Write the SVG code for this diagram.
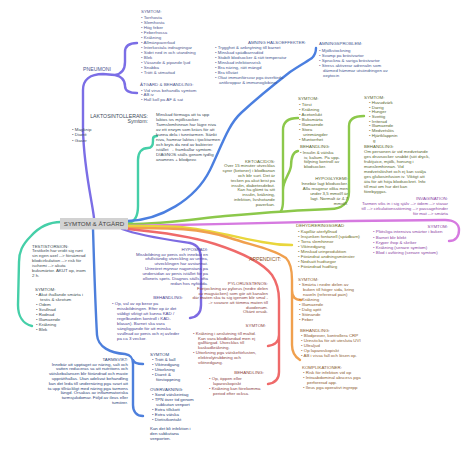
<svg xmlns="http://www.w3.org/2000/svg" width="474" height="452" viewBox="0 0 474 452">
<style>
.t{font-family:"Liberation Sans",Arial,sans-serif;font-size:4.4px}
.h{font-size:5.2px}
.e{text-anchor:end}
.pn{fill:#4f5790}.am{fill:#3f5590}.lk{fill:#3a4a5a}.gr{fill:#56652c}.iv{fill:#8b3fa3}
.dh{fill:#6e6a22}.ap{fill:#8c5a2e}.py{fill:#8c3f3f}.hy{fill:#4b3f93}.ta{fill:#2c3f78}.te{fill:#3a4a52}
.ln{fill:none;stroke-linecap:round;stroke-width:2.4}
</style>
<rect width="474" height="452" fill="#ffffff"/>
<g id="connectors">
<path class="ln" stroke="#7b6ee6" d="M94,218 C92,200 84,170 83,130 L83,90 C83,80 90,74 103,74 L115,75 M115,75 C121,74 125,70 125,62 L125,52 C125,46 129,43 137,43 M115,75 C121,76 125,80 125,86 C125,91 129,93 137,93"/>
<path class="ln" stroke="#45cfa8" d="M128,223 C135,222 138,216 138,206 L138,160 C138,152 142,148 148,148 C152,148 153,145 153,141 L153,139 C153,137 155,136 157,136"/>
<path class="ln" stroke="#45cfa8" d="M61,222 C50,222 40,226 31,236 C22,245 19,252 19,262 L18,305 C18,316 23,324 32,326"/>
<path class="ln" stroke="#4b7fe0" d="M128,221 C160,220 195,200 210,170 C222,145 228,125 241,113 C255,100 272,86 290,72 C300,65 308,61 312,58 C315,55 316,52 316,48"/>
<path class="ln" stroke="#8cc84b" d="M128,224 C170,224 200,218 225,216 C260,213 300,210 330,209 C342,209 349,203 349,192 L349,126 C349,119 354,116 364,116"/>
<path class="ln" stroke="#8cc84b" d="M281,211 C283,208 283,205 283,200 L283,130 C283,122 288,118 298,118 M283,190 C283,180 290,174 291,166 C291,157 293,152 298,151"/>
<path class="ln" stroke="#d67ae0" d="M128,226 C200,225 280,222 350,221 L445,220 C454,220 459,224 459,230 C459,237 455,241 449,241"/>
<path class="ln" stroke="#e9d63c" d="M128,226 C150,226 165,226 180,227 C205,229 240,238 262,242 C272,244 282,245 292,245"/>
<path class="ln" stroke="#f0a04e" d="M128,228 C170,228 200,228 230,238 C255,246 275,250 286,258 C291,263 292,270 292,280 L292,290 C292,297 295,300 301,300 M292,290 L292,345 C292,353 295,357 300,360"/>
<path class="ln" stroke="#ef6a6a" d="M128,229 C160,232 190,236 215,244 C240,252 262,262 272,275 C278,284 279,292 279,300 L279,335 C279,342 275,345 268,346 M279,335 L279,372 C279,380 275,383 268,384"/>
<path class="ln" stroke="#7d6be2" d="M122,229 C140,236 170,240 190,243 C198,245 201,250 201,260 L201,305 C201,313 197,317 190,318"/>
<path class="ln" stroke="#4d7fdc" d="M93,229 C94,260 95,300 97,335 C98,347 110,353 125,354 C131,355 133,358 133,364 L133,405 C133,412 137,416 143,416 M133,360 C134,363 138,364 143,364"/>
</g>
<g id="center">
<rect x="60" y="218" width="68" height="11.5" fill="#d2d2d2"/>
<text x="94" y="226" text-anchor="middle" font-family="Liberation Sans,Arial,sans-serif" font-size="6.2" fill="#444">SYMTOM &amp; ÅTGÄRD</text>
</g>
<g id="pneumoni">
<text class="t h pn" x="83" y="71">PNEUMONI</text>
<text class="t pn"><tspan x="141" y="12.5">SYMTOM:</tspan><tspan x="141" y="19.2">•  Torrhosta</tspan><tspan x="141" y="24.1">•  Slemhosta</tspan><tspan x="141" y="29.1">•  Hög feber</tspan><tspan x="141" y="34">•  Feberfrossa</tspan><tspan x="141" y="39">•  Kräkning</tspan><tspan x="141" y="43.9">•  Allmänpåverkad</tspan><tspan x="141" y="48.9">•  Interkostala indragningar</tspan><tspan x="141" y="53.8">•  Sidet ned in och utandning</tspan><tspan x="141" y="58.8">•  Blek</tspan><tspan x="141" y="63.7">•  Väsande &amp; pipande ljud</tspan><tspan x="141" y="68.7">•  Snabba</tspan><tspan x="141" y="73.6">•  Trött &amp; utmattad</tspan></text>
<text class="t pn"><tspan x="140" y="85.5">ÅTGÄRD &amp; BEHANDLING:</tspan><tspan x="141" y="91.5">•  Vid virus behandla symtom</tspan><tspan x="141" y="96.4">•  AB iv</tspan><tspan x="141" y="101.3">•  Håll koll på AF &amp; sat</tspan></text>
</g>
<g id="amning">
<text class="t am" x="248" y="43.5">AMNING HÄLSOEFFEKTER:</text>
<text class="t am"><tspan x="215" y="49.2">•  Trygghet &amp; anknytning till barnet</tspan><tspan x="215" y="54.2">•  Minskad spädbarnsdöd</tspan><tspan x="215" y="59.2">•  Stabilt blodsocker &amp; rätt temperatur</tspan><tspan x="215" y="64.2">•  Minskad infektionsrisk</tspan><tspan x="215" y="69.2">•  Bra näring, rätt mängd</tspan><tspan x="215" y="74.2">•  Bra tillväxt</tspan><tspan x="215" y="79.2">•  Ökat immunförsvar pga överförda</tspan><tspan x="219" y="84.2">antikroppar &amp; immunoglobiner</tspan></text>
<text class="t am"><tspan x="319" y="44.8">AMNINGSPROBLEM:</tspan><tspan x="319" y="51.5">•  Mjölkstockning</tspan><tspan x="319" y="56.5">•  Svamp på bröstvårtor</tspan><tspan x="319" y="61.5">•  Spruckna &amp; såriga bröstvårtor</tspan><tspan x="319" y="66.5">•  Stress aktiverar adrenalin som</tspan><tspan x="323" y="71.5">därmed hämmar utsöndringen av</tspan><tspan x="323" y="76.5">oxytocin</tspan></text>
</g>
<g id="laktos">
<text class="t h lk e"><tspan x="148" y="117.5">LAKTOSINTOLLERANS:</tspan><tspan x="148" y="123">Symtom:</tspan></text>
<text class="t lk"><tspan x="72" y="131">•  Magknip</tspan><tspan x="72" y="136.3">•  Diarré</tspan><tspan x="72" y="141.7">•  Gaser</tspan></text>
<text class="t lk"><tspan x="156" y="116">Minskad förmåga att ta upp</tspan><tspan x="156" y="121">laktos ivs mjölksocker.</tspan><tspan x="156" y="125.9">Tarmslemhinnan har lägre nivå</tspan><tspan x="156" y="130.8">av ett enzym som krävs för att</tspan><tspan x="156" y="135.8">kunna dela i tunntarmen. Sänkt</tspan><tspan x="156" y="140.7">nivå, hamnar laktos i tjocktarmen</tspan><tspan x="156" y="145.7">och bryts då ned av bakterier</tspan><tspan x="156" y="150.6">istället → framkallar symtom.</tspan><tspan x="156" y="155.6">DIAGNOS ställs genom tydlig</tspan><tspan x="156" y="160.5">anamnes + blodprov.</tspan></text>
</g>
<g id="ketoacidos">
<text class="t gr e"><tspan x="275" y="162.8">KETOACIDOS:</tspan><tspan x="275" y="167.2">Över 15 minuter utvecklas</tspan><tspan x="275" y="171.8">syror (ketoner) i blodbanan</tspan><tspan x="275" y="176.8">och blir surt. Det är</tspan><tspan x="275" y="181.5">tecken på akut brist på</tspan><tspan x="275" y="186.5">insulin, diabetesdebut.</tspan><tspan x="275" y="191.2">Kan ha glömt ta sitt</tspan><tspan x="275" y="196.2">insulin, kräkning,</tspan><tspan x="275" y="201.2">infektion, livshotande</tspan><tspan x="275" y="206.2">påverkan.</tspan></text>
<text class="t gr"><tspan x="298" y="99.8">SYMTOM:</tspan><tspan x="299" y="105.5">•  Törst</tspan><tspan x="299" y="110.5">•  Kräkning</tspan><tspan x="299" y="116">•  Acetonlukt</tspan><tspan x="299" y="121">•  Buksmärta</tspan><tspan x="299" y="126">•  Illamående</tspan><tspan x="299" y="131">•  Stora</tspan><tspan x="303" y="136">urinmängder</tspan><tspan x="299" y="140.7">•  Muntorrhet</tspan></text>
<text class="t gr"><tspan x="300" y="147.5">BEHANDLING:</tspan><tspan x="300" y="153.5">•  Insulin &amp; vätska</tspan><tspan x="304" y="158.5">iv, kalium. På upp-</tspan><tspan x="304" y="163.3">följning kontroll av</tspan><tspan x="304" y="168">blodsocker.</tspan></text>
</g>
<g id="hypoglykemi">
<text class="t gr e"><tspan x="348" y="179.5">HYPOGLYKEMI:</tspan><tspan x="348" y="184.5">Innebär lågt blodsocker.</tspan><tspan x="348" y="189.5">Alla reagerar olika men</tspan><tspan x="348" y="194.5">under 3,5 mmol/l är</tspan><tspan x="348" y="199.5">lågt. Normalt är 4-7</tspan><tspan x="348" y="204.5">mmol/l.</tspan></text>
<text class="t gr"><tspan x="364" y="98.5">SYMTOM:</tspan><tspan x="369" y="103.5">•  Huvudvärk</tspan><tspan x="369" y="108.5">•  Darrig</tspan><tspan x="369" y="113.2">•  Hunger</tspan><tspan x="369" y="117.8">•  Svettig</tspan><tspan x="369" y="122.6">•  Irriterad</tspan><tspan x="369" y="127.4">•  Illamående</tspan><tspan x="369" y="132.2">•  Medvetslös</tspan><tspan x="369" y="137">•  Hjärtklappnin</tspan><tspan x="373" y="141.8">g</tspan></text>
<text class="t gr"><tspan x="364" y="147.5">BEHANDLING:</tspan><tspan x="364" y="152.5">Om personen är vid medvetande</tspan><tspan x="364" y="157.5">ges druvsocker snabbt (söt dryck,</tspan><tspan x="364" y="162.5">fruktjuice, mjölk, honung i</tspan><tspan x="364" y="167.5">munslemhinnan. Vid</tspan><tspan x="364" y="173">medvetslöshet och ej kan svälja</tspan><tspan x="364" y="177.5">ges glukosinfusion iv. Viktigt att</tspan><tspan x="364" y="182.5">äta för att höja blodsockret. Info</tspan><tspan x="364" y="187.5">till mat om hur det kan</tspan><tspan x="364" y="192.5">förebyggas.</tspan></text>
</g>
<g id="invagination">
<text class="t iv e"><tspan x="448" y="199.5">INVAGINATION:</tspan><tspan x="448" y="204.5">Tarmen viks in i sig själv --&gt; ödem --&gt; stasar</tspan><tspan x="448" y="209.5">till --&gt; cirkulationsstörning --&gt; passagehinder</tspan><tspan x="448" y="214.5">för mat --&gt; smärta</tspan><tspan x="448" y="228">SYMTOM:</tspan></text>
<text class="t iv"><tspan x="373" y="233.2">•  Plötsliga intensiva smärtor i buken</tspan><tspan x="373" y="238.5">•  Barnet blir blekt</tspan><tspan x="373" y="243.5">•  Kryper ihop &amp; skriker</tspan><tspan x="373" y="248.5">•  Kräkning (senare symtom)</tspan><tspan x="373" y="253.8">•  Blod i avföring (senare symtom)</tspan></text>
</g>
<g id="dehydrering">
<text class="t dh"><tspan x="296" y="227">DEHYDRERINGSGRAD</tspan><tspan x="298" y="232.5">•  Kapillär återfyllnad</tspan><tspan x="298" y="237.5">•  Insjunken fontanell (spädbarn)</tspan><tspan x="298" y="242.5">•  Torra slemhinnor</tspan><tspan x="298" y="247.5">•  Viktnedgång</tspan><tspan x="298" y="252.5">•  Minskad urinproduktion</tspan><tspan x="298" y="257.5">•  Förändrat andningsmönster</tspan><tspan x="298" y="262.5">•  Nedsatt hudturgor</tspan><tspan x="298" y="267.5">•  Förändrad hudfärg</tspan></text>
</g>
<g id="appendicit">
<text class="t h ap e" x="281" y="260.5">APPENDICIT:</text>
<text class="t ap"><tspan x="298" y="280.5">SYMTOM:</tspan><tspan x="299" y="285.5">•  Smärta i nedre delen av</tspan><tspan x="303" y="290.5">buken till höger sida, kring</tspan><tspan x="303" y="295.5">naveln (refererad pain)</tspan><tspan x="299" y="300.5">•  Kräkning</tspan><tspan x="299" y="305.5">•  Illamående</tspan><tspan x="299" y="310.5">•  Dålig aptit</tspan><tspan x="299" y="315.5">•  Stönande</tspan><tspan x="299" y="320.5">•  Feber</tspan></text>
<text class="t ap"><tspan x="300" y="331.5">BEHANDLING:</tspan><tspan x="301" y="337">•  Blodprover, kontrollera CRP</tspan><tspan x="301" y="342">•  Urinsticka för att utesluta UVI</tspan><tspan x="301" y="347">•  Ultraljud</tspan><tspan x="301" y="352">•  Op laparoskopiskt</tspan><tspan x="301" y="357">•  AB i vissa fall och lösen op.</tspan></text>
<text class="t ap"><tspan x="302" y="368.5">KOMPLIKATIONER:</tspan><tspan x="303" y="373.5">•  Risk för infektion vid op</tspan><tspan x="303" y="378.5">•  Intraabdominal abscess pga</tspan><tspan x="307" y="383.5">perforerad app.</tspan><tspan x="303" y="388.5">•  Ileus pga operativt ingrepp</tspan></text>
</g>
<g id="pylorusstenos">
<text class="t py e"><tspan x="268" y="284.5">PYLORUSSTENOS:</tspan><tspan x="268" y="289.5">Förtjockning av pylorus (nedre delen</tspan><tspan x="268" y="294.5">av magsäcken) som gör att kanalen</tspan><tspan x="268" y="299">där maten ska ta sig igenom blir smal -</tspan><tspan x="268" y="304">-&gt; svårare att tömma maten till</tspan><tspan x="268" y="308.5">duodenum.</tspan><tspan x="268" y="313">Okänt orsak.</tspan><tspan x="266" y="326.5">SYMTOM:</tspan><tspan x="264" y="373.5">BEHANDLING:</tspan></text>
<text class="t py"><tspan x="193" y="334.5">•  Kräkning i anslutning till måltid.</tspan><tspan x="198" y="339.5">Kan vara blodblandad men ej</tspan><tspan x="198" y="344">gallfärgad. Utvecklas till</tspan><tspan x="198" y="349">kaskadkräkning.</tspan><tspan x="193" y="353.5">•  Uttorkning pga vätskeförlusten,</tspan><tspan x="198" y="358.5">elektrolytrubbning och</tspan><tspan x="198" y="363.5">viktnedgång.</tspan></text>
<text class="t py"><tspan x="209" y="379.5">•  Op, öppen eller</tspan><tspan x="213" y="384.5">laparoskopiskt</tspan><tspan x="209" y="389.5">•  Kräkning kan förekomma</tspan><tspan x="213" y="394.5">period efter också.</tspan></text>
</g>
<g id="hypospadi">
<text class="t hy e"><tspan x="208" y="250.5">HYPOSPADI:</tspan><tspan x="208" y="255.5">Missbildning av penis och innebär en</tspan><tspan x="208" y="260">ofullständig utveckling av uretra,</tspan><tspan x="208" y="265">utvecklingen har avstannat.</tspan><tspan x="208" y="270">Urinröret mynnar någonstans på</tspan><tspan x="208" y="275">undersidan av penis istället för på</tspan><tspan x="208" y="280">ollonets spets. Diagnos ställs ofta</tspan><tspan x="208" y="284.5">redan hos nyfödda.</tspan><tspan x="183" y="298.5">BEHANDLING:</tspan></text>
<text class="t hy"><tspan x="112" y="304.5">•  Op, val av op beror på</tspan><tspan x="117" y="309.5">missbildningen. Efter op är det</tspan><tspan x="117" y="314.5">väldigt viktigt att kunna KAD /</tspan><tspan x="117" y="319.5">regelbunden kontroll i KAD-</tspan><tspan x="117" y="324.5">blåsan). Barnet ska vara</tspan><tspan x="117" y="329.5">sängliggande för att minska</tspan><tspan x="117" y="334.5">svullnad av penis och ej avleder</tspan><tspan x="117" y="339.5">på ca 3 veckor.</tspan></text>
</g>
<g id="testistorsion">
<text class="t te"><tspan x="32" y="247.5">TESTISTORSION:</tspan><tspan x="32" y="252">Testikeln har vridit sig runt</tspan><tspan x="32" y="256.8">sin egen axel --&gt; försämrad</tspan><tspan x="32" y="261.8">blodcirkulation --&gt; risk för</tspan><tspan x="32" y="266.8">ischemi --&gt; akuta</tspan><tspan x="32" y="271.8">buksmärtor. AKUT op, inom</tspan><tspan x="32" y="276.8">2 h.</tspan></text>
<text class="t te"><tspan x="35" y="290.5">SYMTOM:</tspan><tspan x="36" y="295.5">•  Akut ihållande smärta i</tspan><tspan x="40" y="300.5">testis &amp; skrotum</tspan><tspan x="36" y="305.5">•  Ödem</tspan><tspan x="36" y="310.5">•  Svullnad</tspan><tspan x="36" y="315.5">•  Rodnad</tspan><tspan x="36" y="320.5">•  Illamående</tspan><tspan x="36" y="325.5">•  Kräkning</tspan><tspan x="36" y="330.5">•  Blek</tspan></text>
</g>
<g id="tarmsvikt">
<text class="t ta e"><tspan x="128" y="360.5">TARMSVIKT:</tspan><tspan x="128" y="365.5">Innebär att upptaget av näring, salt och</tspan><tspan x="128" y="370">vatten reduceras så att nutritions och</tspan><tspan x="128" y="375">vätskebalansen blir förändrad och måste</tspan><tspan x="128" y="380">upprätthållas. Utan adekvat behandling</tspan><tspan x="128" y="385">kan det leda till undernäring pga svårt att</tspan><tspan x="128" y="389.5">ta upp tillräckligt med näring pga tarmens</tspan><tspan x="128" y="394">längd. Orsakas av inflammatoriska</tspan><tspan x="128" y="399">tarmsjukdomar. Följd av ileus eller</tspan><tspan x="128" y="404">tumörer.</tspan></text>
<text class="t ta"><tspan x="150" y="355.5">SYMTOM</tspan><tspan x="152" y="360.5">•  Trött &amp; kall</tspan><tspan x="152" y="365.5">•  Viktnedgång</tspan><tspan x="152" y="370.5">•  Uttorkning</tspan><tspan x="152" y="375.5">•  Diarré &amp;</tspan><tspan x="156" y="380.5">förstoppning</tspan><tspan x="150" y="390.5">ÖVERVAKNING:</tspan><tspan x="152" y="395.5">•  Sond vätskeintag</tspan><tspan x="152" y="400.5">•  TPN över tid genom</tspan><tspan x="156" y="405.5">subkutan venport</tspan><tspan x="152" y="410.5">•  Extra tillskott</tspan><tspan x="152" y="415.5">•  Extra vätska</tspan><tspan x="152" y="420.5">•  Dietistkontakt</tspan><tspan x="150" y="429.5">Kan det bli infektion i</tspan><tspan x="150" y="434.5">den subkutana</tspan><tspan x="150" y="439.5">venporten.</tspan></text>
</g>
</svg>
